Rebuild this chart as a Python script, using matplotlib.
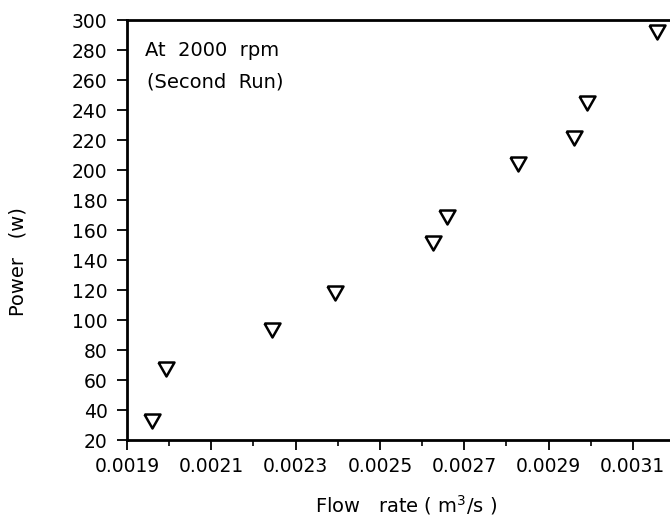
import matplotlib
matplotlib.use("Agg")
import matplotlib.pyplot as plt
from matplotlib.ticker import MultipleLocator, FixedLocator

flow_rate = [0.00196, 0.001992, 0.002244, 0.002393, 0.002626, 0.002659,
             0.002827, 0.00296, 0.002991, 0.003157]
power = [32.7, 67.3, 93.3, 118, 151.3, 168.7, 204, 221.3, 244.7, 292]

x_ticks = [0.0019, 0.0021, 0.0023, 0.0025, 0.0027, 0.0029, 0.0031]
x_tick_labels = ["0.0019", "0.0021", "0.0023", "0.0025", "0.0027", "0.0029", "0.0031"]
y_ticks = list(range(20, 301, 20))

plt.rcParams['font.family'] = ['DejaVu Sans']
fig = plt.figure(figsize=(6.7, 5.22), dpi=100)
W, H = 670, 522
ax = fig.add_axes([127 / W, (H - 440) / H, (675 - 127) / W, (440 - 20) / H])

tri = [(-1, 0.875), (1, 0.875), (0, -0.875), (-1, 0.875)]
ax.plot(flow_rate, power, linestyle='none', marker=tri, markersize=11.5,
        markerfacecolor='white', markeredgecolor='black', markeredgewidth=1.8,
        clip_on=False)

ax.set_xlim(0.0019, 0.0032)
ax.set_ylim(20, 300)
ax.xaxis.set_major_locator(FixedLocator(x_ticks))
ax.set_xticklabels(x_tick_labels)
ax.xaxis.set_minor_locator(MultipleLocator(0.0001))
ax.set_yticks(y_ticks)

for s in ax.spines.values():
    s.set_linewidth(2.0)
ax.tick_params(axis='both', which='major', direction='out', length=7, width=1.3,
               labelsize=13.5)
ax.tick_params(axis='y', which='major', pad=7)
ax.tick_params(axis='x', which='major', pad=5)
ax.tick_params(axis='x', which='minor', direction='out', length=4, width=1.2)

ax.text(0.033, 0.914, "At  2000  rpm", transform=ax.transAxes,
        fontsize=14, ha='left', va='baseline')
ax.text(0.036, 0.840, "(Second  Run)", transform=ax.transAxes,
        fontsize=14, ha='left', va='baseline')

fig.text(406 / W, 1 - 505 / H, "Flow   rate ( m$^3$/s )", fontsize=14,
         ha='center', va='center')
fig.text(18 / W, 1 - 262 / H, "Power   (w)", fontsize=14, rotation=90,
         ha='center', va='center')

fig.savefig("out.png", dpi=100)
